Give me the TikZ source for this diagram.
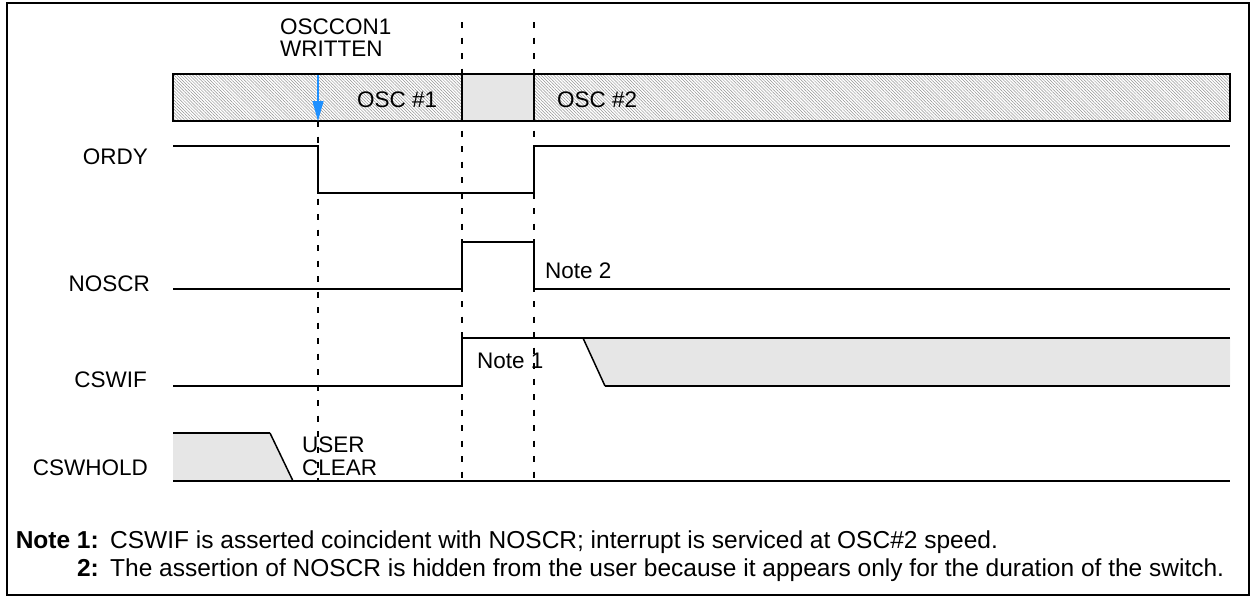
\documentclass[tikz,border=0pt]{standalone}
\usepackage{fontspec}
\setmainfont{Liberation Sans}
\usetikzlibrary{patterns.meta,arrows.meta}
\definecolor{cleargray}{HTML}{E6E6E6}
\definecolor{arrowblue}{HTML}{1E90FF}
\tikzset{
  wave/.style={line width=2.5pt, line join=miter},
  edge/.style={line width=1.5pt},
  guideline/.style={line width=2pt, dash pattern=on 6pt off 9.5pt},
  hatched/.style={preaction={fill=white}, pattern={Lines[angle=-45,distance=2.2pt,line width=0.5pt]}, pattern color=black!42},
  lbl/.style={inner sep=0pt, font=\fontsize{22.5}{22}\selectfont},
  notelbl/.style={inner sep=0pt, font=\fontsize{24.5}{26}\selectfont},
  keylbl/.style={notelbl, font=\fontsize{24.5}{26}\selectfont\bfseries},
}
\begin{document}
\begin{tikzpicture}[x=1pt,y=-1pt]
\useasboundingbox (0,0) rectangle (1251,598);
\draw[line width=2pt] (7,3) rectangle (1249,595);

% time markers
\draw[guideline] (318,121) -- (318,482);
\draw[guideline] (462,22) -- (462,482);
\draw[guideline] (534,22) -- (534,482);

% oscillator bar
\fill[hatched] (173,74) rectangle (462,121);
\fill[cleargray] (462,74) rectangle (534,121);
\fill[hatched] (534,74) rectangle (1230,121);
\draw[line width=2.5pt] (173,74) rectangle (1230,121);
\draw[line width=2.5pt] (462,74) -- (462,121) (534,74) -- (534,121);
\node[lbl, anchor=base west] (osc1) at (357,107) {OSC \#1};
\node[lbl, anchor=base west] (osc2) at (557,107) {OSC \#2};

\node[lbl, align=left, anchor=north west] (written) at (280,19) {OSCCON1\\WRITTEN};
\coordinate (wtop) at (318,75);
\coordinate (wbot) at (318,121);
\draw[arrowblue, line width=1.3pt, -{Triangle[length=20pt,width=11pt]}] (wtop) -- (wbot);

% signal names
\node[lbl, anchor=base east] (ordy) at (148,164) {ORDY};
\node[lbl, anchor=base east] (noscr) at (150,291) {NOSCR};
\node[lbl, anchor=base east] (cswif) at (147,387) {CSWIF};
\node[lbl, anchor=base east] (cswhold) at (148,475) {CSWHOLD};

% ORDY
\draw[wave] (173,146) -- (318,146) -- (318,193) -- (534,193) -- (534,146) -- (1230,146);

% NOSCR
\draw[wave] (173,289) -- (462,289) -- (462,242) -- (534,242) -- (534,289) -- (1230,289);
\node[lbl, anchor=base west] (note2) at (545,278) {Note 2};

% CSWIF
\fill[cleargray] (583,338) -- (605,386) -- (1230,386) -- (1230,338) -- cycle;
\draw[wave] (173,386) -- (462,386) -- (462,338) -- (1230,338);
\draw[edge] (583,338) -- (605,386);
\draw[wave] (605,386) -- (1230,386);
\node[lbl, anchor=base west] (note1) at (477,368) {Note 1};

% CSWHOLD
\fill[cleargray] (173,433) -- (270,433) -- (293,481) -- (173,481) -- cycle;
\draw[wave] (173,433) -- (270,433);
\draw[edge] (270,433) -- (293,481);
\draw[wave] (173,481) -- (1230,481);
\node[lbl, align=left, anchor=north west, font=\fontsize{22.5}{23}\selectfont] (userclear) at (302,437) {USER\\CLEAR};

% notes
\node[keylbl, anchor=base east] (key1) at (99,548) {Note 1:};
\node[notelbl, anchor=base west] (text1) at (110,548) {CSWIF is asserted coincident with NOSCR; interrupt is serviced at OSC\#2 speed.};
\node[keylbl, anchor=base east] (key2) at (99,576) {2:};
\node[notelbl, anchor=base west] (text2) at (110,576) {The assertion of NOSCR is hidden from the user because it appears only for the duration of the switch.};
\end{tikzpicture}
\end{document}
